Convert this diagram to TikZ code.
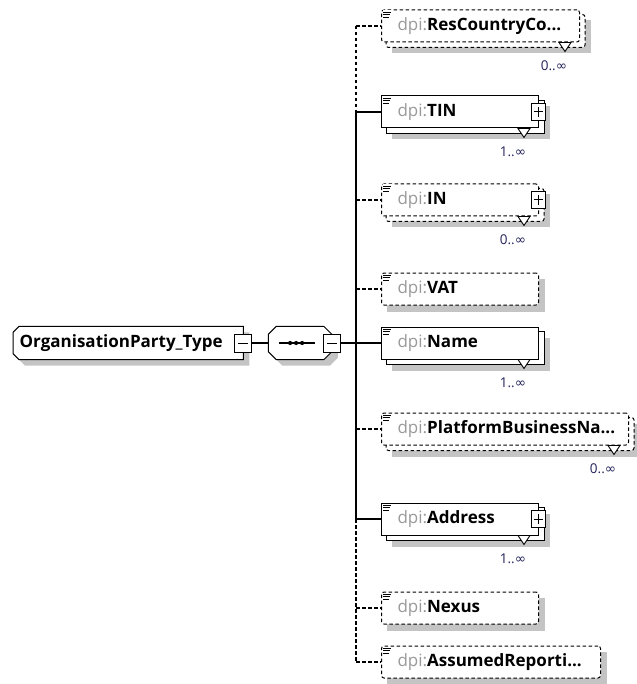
\documentclass[tikz,border=0pt]{standalone}
\usepackage{fontspec}
\setmainfont{Open Sans}
\newfontfamily\symfont{DejaVu Sans}
\usetikzlibrary{calc, positioning, backgrounds}
\definecolor{shadowgray}{HTML}{C4C4C4}
\definecolor{prefixgray}{HTML}{9A9A9A}
\definecolor{multblue}{HTML}{22225A}

\tikzset{
  optline/.style={dash pattern=on 3.5pt off 2.5pt},
  elem/.style={draw, fill=white, line width=1pt, rectangle, anchor=west,
    minimum height=32pt, inner xsep=16pt, inner ysep=0pt, align=left,
    font=\fontsize{17}{19}\selectfont},
  optelem/.style={elem, optline, rounded corners=2.5pt},
  outline/.style={draw, fill=white, line width=1pt},
  shadowfill/.style={fill=shadowgray},
  minusbox/.style={draw, fill=white, line width=1pt, rectangle, inner sep=0pt,
    minimum width=17pt, minimum height=18pt,
    path picture={\draw[line width=1pt] ([xshift=-5pt]path picture bounding box.center) -- ([xshift=5pt]path picture bounding box.center);}},
  plusbox/.style={minusbox, minimum width=14pt, minimum height=17pt,
    path picture={\draw[line width=1pt] ([xshift=-4.5pt]path picture bounding box.center) -- ([xshift=4.5pt]path picture bounding box.center)
      ([yshift=-5pt]path picture bounding box.center) -- ([yshift=5pt]path picture bounding box.center);}},
  multlabel/.style={text=multblue, inner sep=0pt, font=\fontsize{13.5}{15}\selectfont},
  link/.style={line width=1.1pt},
}

% back copy of a repeated element, with its shadow
\newcommand\backbox[2]{%
  \begin{scope}[on background layer]
    \fill[shadowgray] ($(#1.north west)+(11,11)$) rectangle ($(#1.south east)+(11,11)$);
    \draw[#2, fill=white, line width=1pt] ($(#1.north west)+(5,5)$) rectangle ($(#1.south east)+(5,5)$);
  \end{scope}}
\newcommand\dropbox[1]{%
  \begin{scope}[on background layer]
    \fill[shadowgray] ($(#1.north west)+(6,6)$) rectangle ($(#1.south east)+(6,6)$);
  \end{scope}}
% documentation mark in the corner
\newcommand\docmark[1]{%
  \fill[white] ($(#1.north west)+(1.5,1)$) rectangle ($(#1.north west)+(10.5,9)$);
  \draw[line width=0.8pt] ($(#1.north west)+(2,2.5)$) -- ++(8,0)
    ($(#1.north west)+(2,5)$) -- ++(7,0) ($(#1.north west)+(2,7.5)$) -- ++(6,0);}
% occurrence mark and label
\newcommand\occurs[2]{%
  \filldraw[fill=white, line width=0.9pt] ($(#1.south east)+(-21,0)$) -- ++(6,9) -- ++(6,-9) -- cycle;
  \node[multlabel] at ($(#1.south east)+(-26,23)$) {#2};}

\begin{document}
\begin{tikzpicture}[x=1pt, y=-1pt]
  \useasboundingbox (0,0) rectangle (636,684);

  % complex type and its sequence
  \node[anchor=west, minimum width=230pt, minimum height=33pt, inner sep=0pt,
    font=\bfseries\fontsize{17}{19}\selectfont] (party) at (13,343) {OrganisationParty\_Type\hspace*{14pt}};
  \node[minimum width=63pt, minimum height=33pt, inner sep=0pt, right=25pt of party.east] (seq) {};
  \begin{scope}[on background layer]
    \foreach \s/\st in {6/shadowfill, 0/outline} {
      \path[\st] ($(party.north west)+(6+\s,\s)$) -- ($(party.north east)+(\s,\s)$) -- ($(party.south east)+(\s,\s)$)
        -- ($(party.south west)+(6+\s,\s)$) -- ($(party.south west)+(\s,\s-6)$) -- ($(party.north west)+(\s,\s+6)$) -- cycle;
      \path[\st] ($(seq.north west)+(8+\s,\s)$) -- ($(seq.north east)+(\s-8,\s)$) -- ($(seq.north east)+(\s,\s+8)$)
        -- ($(seq.south east)+(\s,\s-8)$) -- ($(seq.south east)+(\s-8,\s)$) -- ($(seq.south west)+(8+\s,\s)$)
        -- ($(seq.south west)+(\s,\s-8)$) -- ($(seq.north west)+(\s,\s+8)$) -- cycle;
    }
  \end{scope}
  \node[minusbox] (partyMinus) at (party.east) {};
  \node[minusbox] (seqMinus) at (seq.east) {};
  \draw[line width=1.6pt] ($(seq.center)+(-21,0)$) -- ($(seq.center)+(15,0)$);
  \foreach \dx in {-10,-4,2}
    \fill ($(seq.center)+(\dx,0)$) circle (2.1pt);

  % child elements
  \node[optelem, text width=166pt] (resCountry) at (381,26) {{\color{prefixgray}dpi:}\textbf{ResCountryCo...}};
  \node[elem, text width=125pt] (tin) at (381,112) {{\color{prefixgray}dpi:}\textbf{TIN}};
  \node[optelem, text width=125pt] (inNum) at (381,200) {{\color{prefixgray}dpi:}\textbf{IN}};
  \node[optelem, text width=125pt] (vat) at (381,289) {{\color{prefixgray}dpi:}\textbf{VAT}};
  \node[elem, text width=125pt] (orgName) at (381,343) {{\color{prefixgray}dpi:}\textbf{Name}};
  \node[optelem, text width=215pt] (platform) at (381,429) {{\color{prefixgray}dpi:}\textbf{PlatformBusinessNa...}};
  \node[elem, text width=125pt] (address) at (381,519) {{\color{prefixgray}dpi:}\textbf{Address}};
  \node[optelem, text width=125pt] (nexus) at (381,608) {{\color{prefixgray}dpi:}\textbf{Nexus}};
  \node[optelem, text width=187pt] (assumed) at (381,662) {{\color{prefixgray}dpi:}\textbf{AssumedReporti...}};

  \backbox{resCountry}{optline, rounded corners=2.5pt}
  \backbox{tin}{}
  \backbox{inNum}{optline, rounded corners=2.5pt}
  \dropbox{vat}
  \backbox{orgName}{}
  \backbox{platform}{optline, rounded corners=2.5pt}
  \backbox{address}{}
  \dropbox{nexus}
  \dropbox{assumed}

  \foreach \n in {resCountry,tin,inNum,vat,orgName,platform,address,nexus,assumed}
    \docmark{\n};
  \foreach \n in {tin,inNum,address}
    \node[plusbox] at ([xshift=-1pt]\n.east) {};

  \occurs{resCountry}{0..{\symfont ∞}}
  \occurs{tin}{1..{\symfont ∞}}
  \occurs{inNum}{0..{\symfont ∞}}
  \occurs{orgName}{1..{\symfont ∞}}
  \occurs{platform}{0..{\symfont ∞}}
  \occurs{address}{1..{\symfont ∞}}

  % connectors
  \coordinate (trunk) at (356,0);
  \draw[link] (partyMinus.east) -- (seq.west);
  \draw[link] (seqMinus.east) -- (orgName.west -| trunk);
  \draw[link, optline] (resCountry.west -| trunk) -- (tin.west -| trunk);
  \draw[link] (tin.west -| trunk) -- (address.west -| trunk);
  \draw[link, optline] (address.west -| trunk) -- (assumed.west -| trunk);
  \foreach \n in {tin,orgName,address}
    \draw[link] (\n.west -| trunk) -- (\n.west);
  \foreach \n in {resCountry,inNum,vat,platform,nexus,assumed}
    \draw[link, optline] (\n.west -| trunk) -- (\n.west);
\end{tikzpicture}
\end{document}
